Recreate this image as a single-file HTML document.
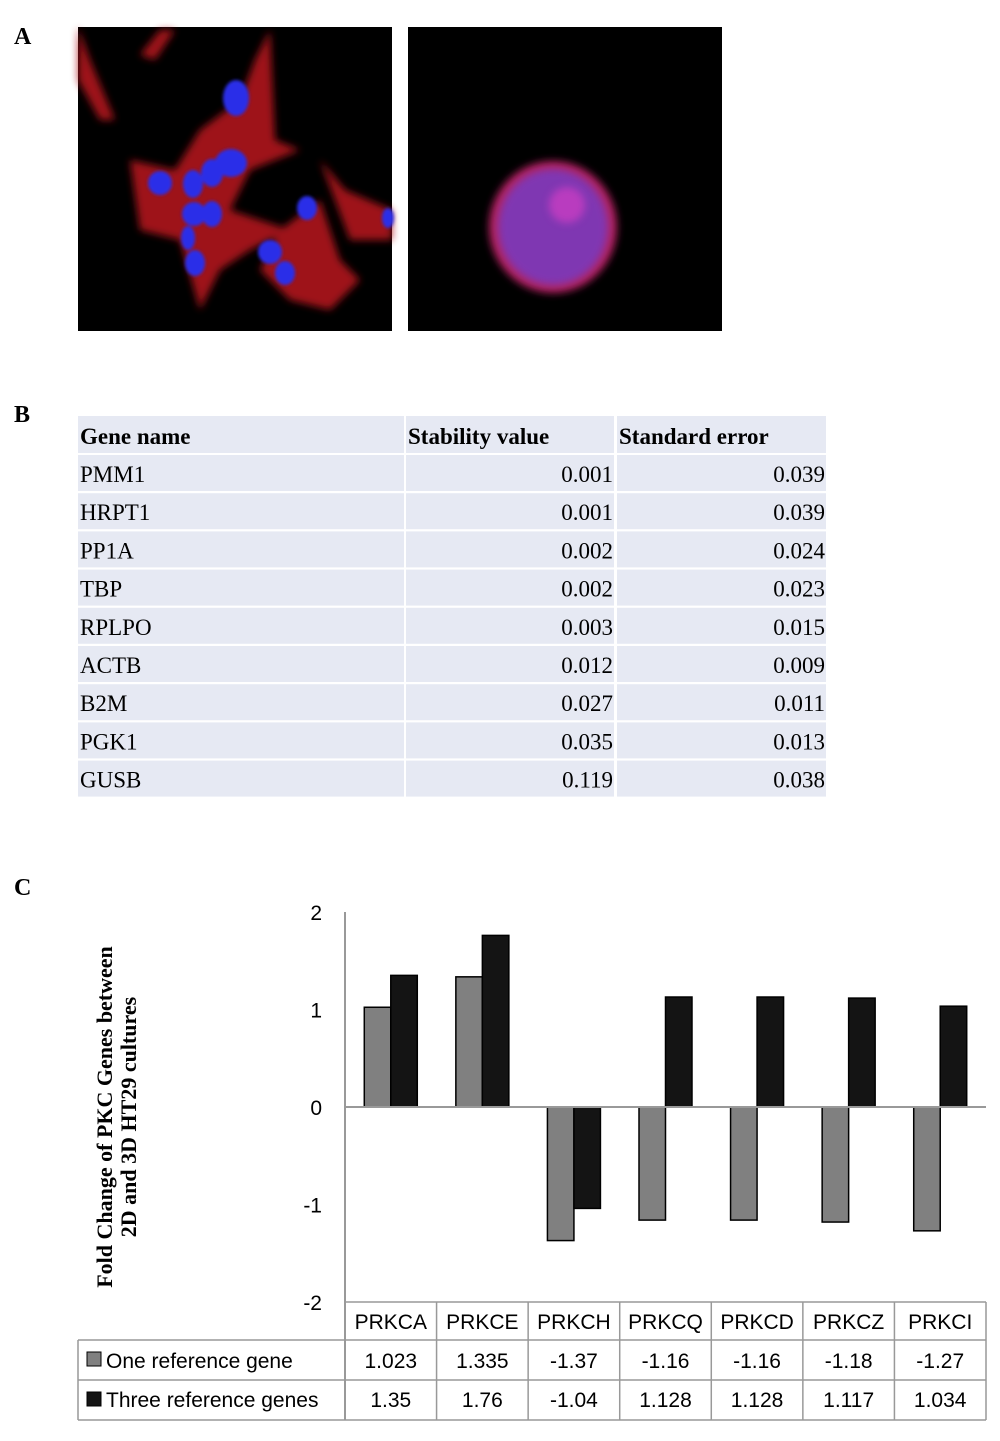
<!DOCTYPE html>
<html><head><meta charset="utf-8"><style>
body{margin:0;background:#fff;width:1000px;height:1436px;overflow:hidden}
svg text{font-family:"Liberation Serif",serif}
.s{font-family:"Liberation Sans",sans-serif}
</style></head><body>
<svg width="1000" height="1436" viewBox="0 0 1000 1436" xmlns="http://www.w3.org/2000/svg">
<defs>
<filter id="bl" x="-50%" y="-50%" width="200%" height="200%"><feGaussianBlur stdDeviation="4"/></filter>
<filter id="bl2"><feGaussianBlur stdDeviation="1.5"/></filter>
</defs>
<text x="14" y="44" font-size="24" font-weight="bold">A</text>
<g>
<rect x="78" y="27" width="314" height="304" fill="#000"/>
<g filter="url(#bl)" fill="#b0181a" opacity="0.9">
<polygon points="130,160 175,170 200,130 240,100 255,60 270,30 275,140 300,150 250,170 230,210 290,230 250,250 220,270 200,310 180,240 140,230"/>
<polygon points="280,230 320,200 340,260 360,280 330,310 290,300 260,270"/>
<polygon points="78,27 90,60 115,120 100,120 78,80"/>
<polygon points="320,160 345,190 392,210 392,240 350,240"/>
<polygon points="140,55 160,30 175,30 155,60"/>
</g>
<g fill="#2a2ee8" filter="url(#bl2)">
<ellipse cx="236" cy="98" rx="13" ry="18"/><ellipse cx="231" cy="163" rx="16" ry="14"/>
<ellipse cx="212" cy="173" rx="11" ry="14"/><ellipse cx="193" cy="184" rx="10" ry="14"/>
<ellipse cx="160" cy="183" rx="12" ry="12"/><ellipse cx="194" cy="214" rx="12" ry="12"/>
<ellipse cx="212" cy="214" rx="10" ry="13"/><ellipse cx="188" cy="238" rx="7" ry="12"/>
<ellipse cx="195" cy="263" rx="10" ry="13"/><ellipse cx="270" cy="252" rx="12" ry="12"/>
<ellipse cx="285" cy="273" rx="10" ry="12"/><ellipse cx="307" cy="208" rx="10" ry="12"/>
<ellipse cx="388" cy="218" rx="6" ry="10"/>
</g></g>
<g>
<rect x="408" y="27" width="314" height="304" fill="#000"/>
<ellipse cx="553" cy="227" rx="64" ry="66" fill="#b32060" filter="url(#bl)"/>
<ellipse cx="553" cy="227" rx="55" ry="58" fill="#6a3fd6" opacity="0.7" filter="url(#bl)"/>
<ellipse cx="567" cy="205" rx="18" ry="18" fill="#e040c8" opacity="0.6" filter="url(#bl)"/>
</g>
<text x="14" y="422" font-size="24" font-weight="bold">B</text>
<g id="tbl"></g>
<text x="14" y="895" font-size="24" font-weight="bold">C</text>
<g id="chart"></g>
<g transform="translate(118,1117) rotate(-90)">
<text x="0" y="-6" font-size="22" font-weight="bold" text-anchor="middle">Fold Change of PKC Genes between</text>
<text x="0" y="18" font-size="22" font-weight="bold" text-anchor="middle">2D and 3D HT29 cultures</text>
</g>
</svg>
<script>
const NS="http://www.w3.org/2000/svg";
function mk(p,t,a,txt){const e=document.createElementNS(NS,t);for(const k in a)e.setAttribute(k,a[k]);if(txt!==undefined)e.textContent=txt;p.appendChild(e);return e;}
// Table B
const genes=["PMM1","HRPT1","PP1A","TBP","RPLPO","ACTB","B2M","PGK1","GUSB"];
const stability=["0.001","0.001","0.002","0.002","0.003","0.012","0.027","0.035","0.119"];
const stdErr=["0.039","0.039","0.024","0.023","0.015","0.009","0.011","0.013","0.038"];
const tbl=document.getElementById('tbl');
const cols=[[78,404],[406,614],[617,826]];
function row(y,h,vals,bold,name){
  const g=mk(tbl,'g',{});
  
  
  cols.forEach((c,i)=>{
    mk(g,'rect',{x:c[0],y:y,width:c[1]-c[0],height:h,fill:'#e6e9f3'});
    const t=mk(g,'text',{x:i==0?c[0]+2:(bold?c[0]+2:c[1]-1),y:y+h-9,'font-size':23,'text-anchor':(i==0||bold)?'start':'end','font-weight':bold?'bold':'normal'},vals[i]);
  });
}
row(416,37,["Gene name","Stability value","Standard error"],true,'table-header');
genes.forEach((g,i)=>row(455+i*38.2,36,[g,stability[i],stdErr[i]],false,'table-row-'+g.toLowerCase()));
// Chart C
const categories=["PRKCA","PRKCE","PRKCH","PRKCQ","PRKCD","PRKCZ","PRKCI"];
const oneRef=[1.023,1.335,-1.37,-1.16,-1.16,-1.18,-1.27];
const threeRef=[1.35,1.76,-1.04,1.128,1.128,1.117,1.034];
const oneLabels=["1.023","1.335","-1.37","-1.16","-1.16","-1.18","-1.27"];
const threeLabels=["1.35","1.76","-1.04","1.128","1.128","1.117","1.034"];
const yTicks=[2,1,0,-1,-2];
const ch=document.getElementById('chart');
const X0=345,X1=986,step=(X1-X0)/categories.length;
const y=v=>1107-v*97.5;
mk(ch,'line',{x1:X0,y1:y(2),x2:X0,y2:1420,stroke:'#999','stroke-width':2});
yTicks.forEach(t=>{const e=mk(ch,'text',{x:322,y:y(t)+8,'font-size':21,'text-anchor':'end',class:'s'},String(t));

});
const bw=26.5;
categories.forEach((c,i)=>{
  const cx=X0+step*(i+0.5);
  [[oneRef,'#808080',cx-bw],[threeRef,'#141414',cx]].forEach((s,j)=>{
    const v=s[0][i];
    const r=mk(ch,'rect',{x:s[2],y:Math.min(y(v),y(0)),width:bw,height:Math.abs(y(v)-y(0)),fill:s[1],stroke:'#000','stroke-width':1.5});
    
    
  });
});
mk(ch,'line',{x1:X0,y1:y(0),x2:X1,y2:y(0),stroke:'#999','stroke-width':2});
// data table
const g=mk(ch,'g',{stroke:'#999','stroke-width':1.5});
mk(g,'line',{x1:X0,y1:1302,x2:X1,y2:1302});
mk(g,'line',{x1:78,y1:1340,x2:X1,y2:1340});
mk(g,'line',{x1:78,y1:1380,x2:X1,y2:1380});
mk(g,'line',{x1:78,y1:1420,x2:X1,y2:1420});
mk(g,'line',{x1:78,y1:1340,x2:78,y2:1420});
for(let i=0;i<=categories.length;i++){mk(g,'line',{x1:X0+step*i,y1:1302,x2:X0+step*i,y2:1420});}
categories.forEach((c,i)=>{
  const cx=X0+step*(i+0.5);
  const t=mk(ch,'text',{x:cx,y:1329,'font-size':21,'text-anchor':'middle',class:'s'},c);
  
  
  mk(ch,'text',{x:cx,y:1368,'font-size':21,'text-anchor':'middle',class:'s'},oneLabels[i]);
  mk(ch,'text',{x:cx,y:1407,'font-size':21,'text-anchor':'middle',class:'s'},threeLabels[i]);
});
const l1=mk(ch,'g',{});


mk(l1,'rect',{x:87,y:1352,width:14,height:14,fill:'#808080',stroke:'#000'});
mk(l1,'text',{x:106,y:1368,'font-size':21,class:'s'},'One reference gene');
const l2=mk(ch,'g',{});


mk(l2,'rect',{x:87,y:1392,width:14,height:14,fill:'#141414',stroke:'#000'});
mk(l2,'text',{x:106,y:1407,'font-size':21,class:'s'},'Three reference genes');
</script>
</body></html>
